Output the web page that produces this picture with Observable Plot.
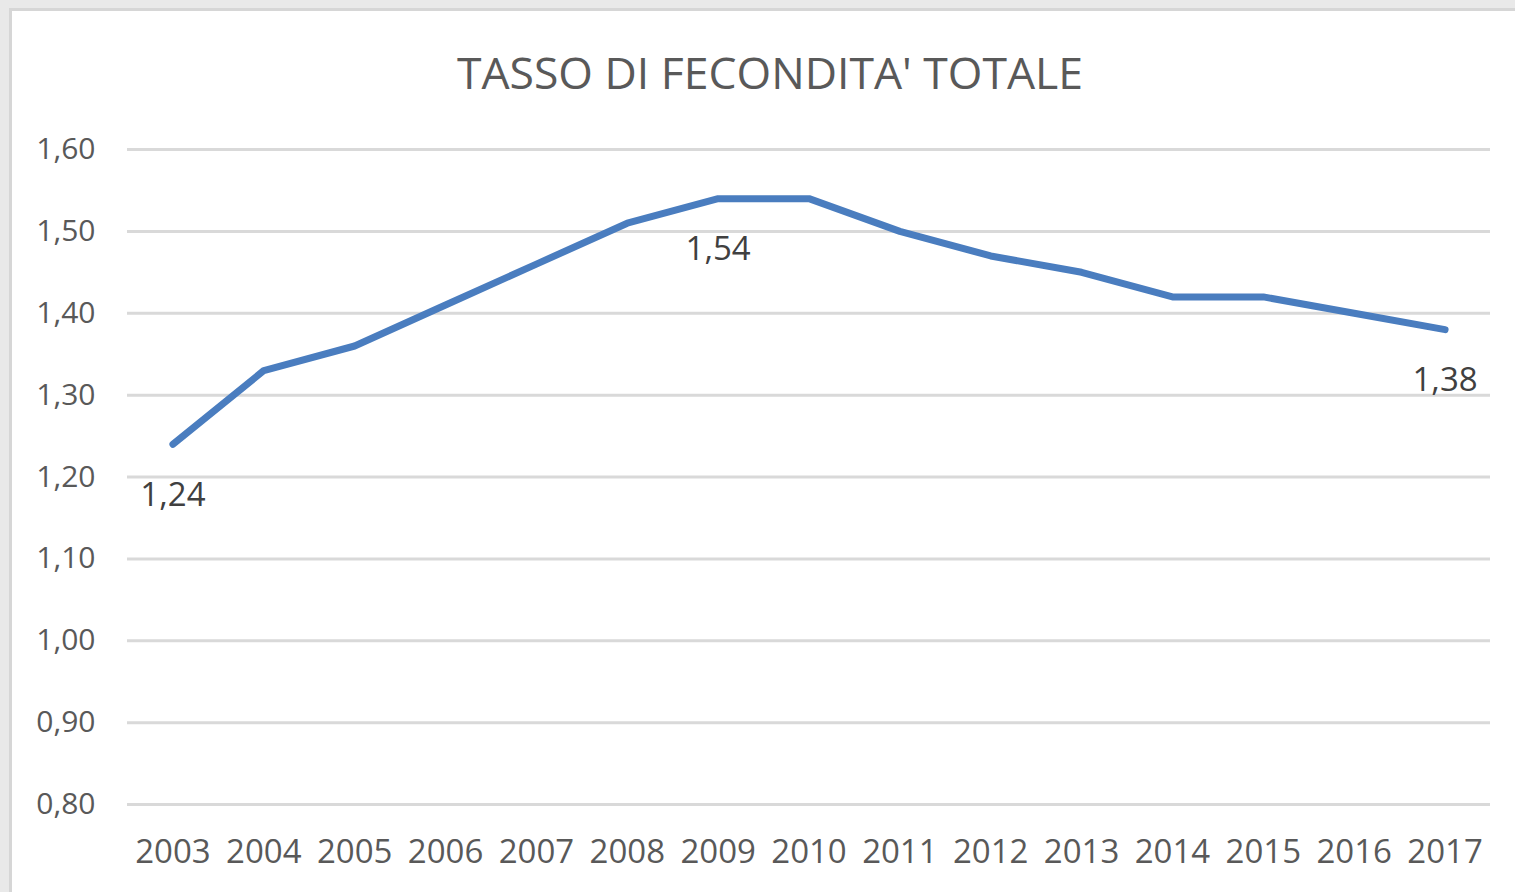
<!DOCTYPE html>
<html>
<head>
<meta charset="utf-8">
<script src="https://cdn.jsdelivr.net/npm/d3@7"></script>
<script src="https://cdn.jsdelivr.net/npm/@observablehq/plot@0.6"></script>
<style>
  html, body { margin: 0; padding: 0; background: #e9e9e9; overflow: hidden; }
  #frame { position: absolute; left: 9px; top: 8px; width: 1540px; height: 900px;
           background: #ffffff; border-left: 3px solid #d6d6d6; border-top: 3px solid #d6d6d6; }
  #title { position: absolute; left: 0; top: 50px; width: 1540px; text-align: center;
           font-family: "Open Sans", sans-serif; font-size: 44.5px; line-height: 1; color: #595959; }
  #chart { position: absolute; left: 0; top: 110px; }
</style>
</head>
<body>
<div id="frame"></div>
<div id="title">TASSO DI FECONDITA' TOTALE</div>
<div id="chart"></div>
<script>
const years = [2003, 2004, 2005, 2006, 2007, 2008, 2009, 2010, 2011, 2012, 2013, 2014, 2015, 2016, 2017];
const values = [1.24, 1.33, 1.36, 1.41, 1.46, 1.51, 1.54, 1.54, 1.50, 1.47, 1.45, 1.42, 1.42, 1.40, 1.38];
const yTicks = [0.8, 0.9, 1.0, 1.1, 1.2, 1.3, 1.4, 1.5, 1.6];
const labelYears = [2003, 2009, 2017];

const data = years.map((y, i) => ({year: String(y), value: values[i]}));
const labelData = data.filter(d => labelYears.includes(+d.year));
const fmt = v => v.toFixed(2).replace(".", ",");

const chart = Plot.plot({
  width: 1515,
  height: 782,
  marginLeft: 127,
  marginRight: 25,
  marginTop: 39,
  marginBottom: 88,
  style: {fontFamily: "'Open Sans', sans-serif", fontSize: "30px", color: "#595959", background: "transparent"},
  x: {type: "point", domain: years.map(String), padding: 0.5, round: false, label: null, tickSize: 0, tickPadding: 36},
  y: {domain: [0.8, 1.6], ticks: yTicks, tickFormat: fmt, label: null, tickSize: 0, tickPadding: 32},
  marks: [
    Plot.ruleY(yTicks, {stroke: "#d9d9d9", strokeWidth: 3}),
    Plot.axisX({tickSize: 0, tickPadding: 35, fontSize: 33, label: null}),
    Plot.line(data, {x: "year", y: "value", stroke: "#4a7dbf", strokeWidth: 7, strokeLinecap: "round", strokeLinejoin: "round"}),
    Plot.text(labelData, {x: "year", y: "value", text: d => fmt(d.value), dy: 51, fill: "#404040", fontSize: 33, lineAnchor: "middle"})
  ]
});
document.getElementById("chart").appendChild(chart);
</script>
</body>
</html>
